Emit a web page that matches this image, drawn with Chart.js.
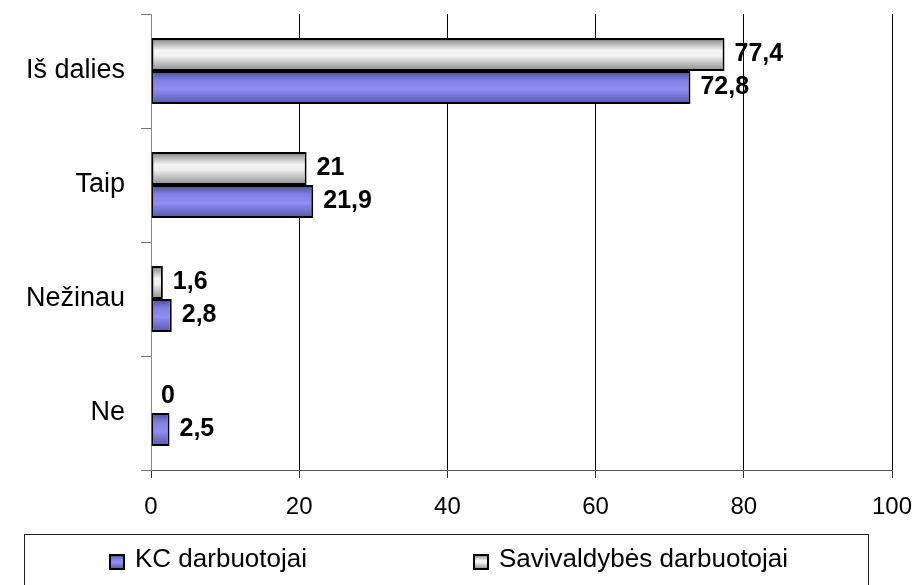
<!DOCTYPE html>
<html><head><meta charset="utf-8">
<script src="https://cdn.jsdelivr.net/npm/chart.js@4.4.0/dist/chart.umd.min.js"></script>
<style>html,body{margin:0;padding:0;background:#fff}canvas{display:block}</style>
</head><body>
<canvas id="c" width="917" height="585"></canvas>
<script>
const categories = ['Iš dalies', 'Taip', 'Nežinau', 'Ne'];
const savivaldybesValues = [77.4, 21, 1.6, 0];
const kcValues = [72.8, 21.9, 2.8, 2.5];
const seriesNames = ['Savivaldybės darbuotojai', 'KC darbuotojai'];
const xTickValues = [0, 20, 40, 60, 80, 100];

const FONT = '"Liberation Sans", Arial, sans-serif';
const grayStops = [[0, '#6a6a6a'], [0.12, '#a6a6a6'], [0.38, '#f4f4f4'], [0.55, '#efefef'], [1, '#8a8a8a']];
const blueStops = [[0, '#4a4a96'], [0.28, '#8080e4'], [0.55, '#8e8ef4'], [1, '#5656a6']];

function fmt(v) { return String(v).replace('.', ','); }

const gradientPlugin = {
  id: 'grad',
  beforeDatasetsDraw(chart) {
    const ctx = chart.ctx;
    chart.data.datasets.forEach((ds, i) => {
      const stops = i === 0 ? grayStops : blueStops;
      chart.getDatasetMeta(i).data.forEach(el => {
        const top = el.y - el.height / 2, bot = el.y + el.height / 2;
        const g = ctx.createLinearGradient(0, top, 0, bot);
        stops.forEach(([o, c]) => g.addColorStop(o, c));
        el.options = Object.assign({}, el.options, { backgroundColor: g });
      });
    });
  }
};

const labelPlugin = {
  id: 'vals',
  afterDatasetsDraw(chart) {
    const ctx = chart.ctx;
    ctx.save();
    ctx.font = 'bold 25px ' + FONT;
    ctx.fillStyle = '#000';
    ctx.textAlign = 'left';
    ctx.textBaseline = 'middle';
    chart.data.datasets.forEach((ds, i) => {
      chart.getDatasetMeta(i).data.forEach((el, j) => {
        ctx.fillText(fmt(ds.data[j]), el.x + 10, el.y);
      });
    });
    ctx.restore();
  }
};

const legendPlugin = {
  id: 'boxLegend',
  afterDraw(chart) {
    const ctx = chart.ctx;
    ctx.save();
    ctx.strokeStyle = '#222';
    ctx.lineWidth = 1;
    ctx.strokeRect(24.5, 534.5, 844, 70);
    const items = [
      { name: seriesNames[1], stops: blueStops, mx: 110 },
      { name: seriesNames[0], stops: grayStops, mx: 474 }
    ];
    ctx.font = '26px ' + FONT;
    ctx.textBaseline = 'middle';
    ctx.textAlign = 'left';
    items.forEach(it => {
      const g = ctx.createLinearGradient(0, 555, 0, 569);
      it.stops.forEach(([o, c]) => g.addColorStop(o, c));
      ctx.fillStyle = g;
      ctx.fillRect(it.mx, 555, 14, 14);
      ctx.strokeStyle = '#000';
      ctx.lineWidth = 2;
      ctx.strokeRect(it.mx, 555, 14, 14);
      ctx.fillStyle = '#000';
      ctx.fillText(it.name, it.mx + 25, 560);
    });
    ctx.restore();
  }
};

const barStyle = {
  barPercentage: 1,
  categoryPercentage: 0.58,
  borderColor: '#000',
  borderWidth: 2,
  borderSkipped: false,
  backgroundColor: (c) => (c.datasetIndex === 0 ? '#e0e0e0' : '#8888ee')
};

new Chart(document.getElementById('c'), {
  type: 'bar',
  data: {
    labels: categories,
    datasets: [
      Object.assign({ label: seriesNames[0], data: savivaldybesValues }, barStyle),
      Object.assign({ label: seriesNames[1], data: kcValues }, barStyle)
    ]
  },
  options: {
    indexAxis: 'y',
    responsive: false,
    animation: false,
    devicePixelRatio: 1,
    layout: { padding: { top: 14, right: 25, left: 0, bottom: 0 } },
    plugins: { legend: { display: false }, tooltip: { enabled: false }, colors: { enabled: false } },
    scales: {
      x: {
        min: 0, max: 100,
        afterBuildTicks(scale) { scale.ticks = xTickValues.map(v => ({ value: v })); },
        afterFit(scale) { scale.height = 115; scale.paddingLeft = 0; scale.paddingRight = 0; },
        grid: {
          color: (c) => (c.tick && c.tick.value === 0) ? 'rgba(0,0,0,0)' : '#000',
          tickColor: '#333',
          lineWidth: 1,
          tickLength: 8
        },
        border: { color: '#555', width: 1 },
        ticks: { color: '#000', padding: 15, font: { family: FONT, size: 24 } }
      },
      y: {
        afterFit(scale) { scale.width = 151; scale.paddingTop = 0; scale.paddingBottom = 0; },
        grid: {
          drawOnChartArea: false,
          drawTicks: true,
          tickLength: 10,
          tickColor: '#777',
          offset: true
        },
        border: { color: '#888', width: 1 },
        ticks: { color: '#000', padding: 16, font: { family: FONT, size: 27 } }
      }
    }
  },
  plugins: [gradientPlugin, labelPlugin, legendPlugin]
});
</script>
</body></html>
